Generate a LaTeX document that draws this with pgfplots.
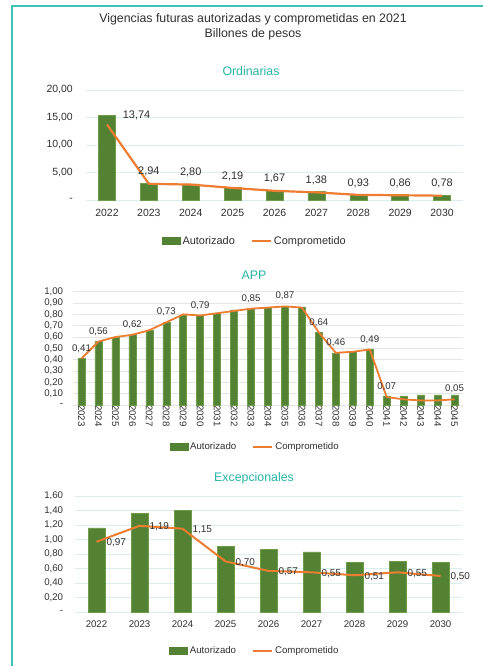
\documentclass[border=0pt]{standalone}
\usepackage{fontspec}
\setmainfont{Liberation Sans}
\usepackage{pgfplots}
\usepackage{pgfplotstable}
\pgfplotsset{compat=1.18}
\definecolor{barg}{HTML}{548235}
\definecolor{bared}{HTML}{6E9E4C}
\definecolor{orng}{HTML}{ED7D31}
\definecolor{tealt}{HTML}{26B4A6}
\definecolor{framec}{HTML}{3CC3B5}
\definecolor{gridc}{HTML}{DAEEEE}
\definecolor{txt}{HTML}{303030}

\pgfplotstableread{
x aut comp lab
0 15.45 13.74 {}
1 3.05 2.94 2,94
2 2.95 2.80 2,80
3 2.30 2.19 2,19
4 1.80 1.67 1,67
5 1.50 1.38 1,38
6 1.00 0.93 0,93
7 0.95 0.86 0,86
8 0.90 0.78 0,78
}\ordtab

\pgfplotstableread{
x aut comp lab
0 0.41 0.41 0,41
1 0.56 0.56 0,56
2 0.60 0.60 {}
3 0.62 0.62 0,62
4 0.66 0.66 {}
5 0.73 0.73 0,73
6 0.79 0.80 {}
7 0.79 0.79 0,79
8 0.81 0.81 {}
9 0.84 0.83 {}
10 0.85 0.85 0,85
11 0.86 0.86 {}
12 0.87 0.87 0,87
13 0.86 0.86 {}
14 0.64 0.64 0,64
15 0.46 0.46 0,46
16 0.47 0.47 {}
17 0.49 0.49 0,49
18 0.08 0.07 0,07
19 0.08 0.05 {}
20 0.09 0.04 {}
21 0.09 0.04 {}
22 0.09 0.05 0,05
}\apptab

\pgfplotstableread{
x aut comp lab
0 1.16 0.97 0,97
1 1.36 1.19 1,19
2 1.40 1.15 1,15
3 0.91 0.70 0,70
4 0.87 0.57 0,57
5 0.83 0.55 0,55
6 0.69 0.51 0,51
7 0.70 0.55 0,55
8 0.69 0.50 0,50
}\exctab

\pgfplotsset{
  vf/.style={
    scale only axis, anchor=south west, clip=false,
    axis line style={draw=none}, major tick length=0pt,
    ymajorgrids, grid style={gridc, line width=0.9bp},
    ymin=0, xmin=-0.5,
    ticklabel style={text=txt},
    legend style={draw=none, fill=none, legend columns=2, anchor=center,
      text=txt,
      /tikz/every even column/.append style={column sep=14bp}},
  },
  barst/.style={ybar, bar width=#1, fill=barg, draw=bared, line width=0.5bp,
    legend image code/.code={\fill[barg] (0bp,-3.5bp) rectangle (18bp,3.5bp);}},
  linest/.style={orng, line width=#1, sharp plot,
    legend image code/.code={\draw[orng,line width=2bp] (0bp,0bp) -- (19bp,0bp);}},
}

\begin{document}
\begin{tikzpicture}[x=1bp,y=1bp]
\useasboundingbox (0,0) rectangle (483,666);
\fill[white] (0,0) rectangle (483,666);
\draw[framec, line width=1.6bp] (12,0) -- (12,660) -- (483,660);

\node[font=\fontsize{12.4}{14}\selectfont, text=txt] at (253,647) {Vigencias futuras autorizadas y comprometidas en 2021};
\node[font=\fontsize{12.4}{14}\selectfont, text=txt] at (253,632) {Billones de pesos};
\node[font=\fontsize{12.4}{14}\selectfont, text=tealt] at (251,595) {Ordinarias};
\node[font=\fontsize{12.4}{14}\selectfont, text=tealt] at (254,391) {APP};
\node[font=\fontsize{12.4}{14}\selectfont, text=tealt] at (254,188) {Excepcionales};

% ---------- Ordinarias ----------
\begin{axis}[vf, at={(86bp,466bp)}, width=377bp, height=110bp,
  xmax=8.5, ymax=20,
  ytick={0,5,10,15,20},
  yticklabels={{-\hspace{5bp}},{5,00},{10,00},{15,00},{20,00}},
  xtick={0,...,8},
  xticklabels={2022,2023,2024,2025,2026,2027,2028,2029,2030},
  ticklabel style={font=\fontsize{10.5}{12}\selectfont},
  yticklabel style={xshift=-9.7bp},
  xticklabel style={yshift=-6bp},
  legend style={at={(0.448,-0.373)}, font=\fontsize{11}{13}\selectfont},
]
\addplot[barst=17bp] table[x=x,y=aut] {\ordtab};
\addlegendentry{Autorizado}
\addplot[linest=2.2bp, nodes near coords, point meta=explicit symbolic,
  every node near coord/.append style={anchor=south, text=txt, yshift=3bp,
    font=\fontsize{11}{13}\selectfont}]
  table[x=x,y=comp,meta=lab] {\ordtab};
\addlegendentry{Comprometido}
\addplot[draw=none, forget plot, nodes near coords, point meta=explicit symbolic,
  every node near coord/.append style={anchor=south west, text=txt, xshift=12.4bp, yshift=1bp,
    font=\fontsize{11}{13}\selectfont}]
  coordinates {(0,13.74) [13,74]};
\end{axis}

% ---------- APP ----------
\begin{axis}[vf, at={(73bp,261bp)}, width=390bp, height=113.3bp,
  xmax=22.5, ymax=1,
  ytick={0,0.1,...,1.0},
  yticklabels={{-\hspace{5bp}},{0,10},{0,20},{0,30},{0,40},{0,50},{0,60},{0,70},{0,80},{0,90},{1,00}},
  xtick={0,...,22},
  xticklabels={2023,2024,2025,2026,2027,2028,2029,2030,2031,2032,2033,2034,2035,2036,2037,2038,2039,2040,2041,2042,2043,2044,2045},
  ticklabel style={font=\fontsize{9.7}{11}\selectfont},
  yticklabel style={xshift=-6.4bp},
  xticklabel style={rotate=-90, anchor=west, xshift=-3.4bp},
  grid style={black!10},
  legend style={at={(0.467,-0.371)}, font=\fontsize{9.7}{11}\selectfont},
]
\addplot[barst=7bp] table[x=x,y=aut] {\apptab};
\addlegendentry{Autorizado}
\addplot[linest=1.8bp, nodes near coords, point meta=explicit symbolic,
  every node near coord/.append style={anchor=south, text=txt, yshift=2bp,
    font=\fontsize{9.7}{11}\selectfont}]
  table[x=x,y=comp,meta=lab] {\apptab};
\addlegendentry{Comprometido}
\end{axis}

% ---------- Excepcionales ----------
\begin{axis}[vf, at={(75bp,53.7bp)}, width=387bp, height=116.3bp,
  xmax=8.5, ymax=1.6,
  ytick={0,0.2,...,1.6},
  yticklabels={{-\hspace{5bp}},{0,20},{0,40},{0,60},{0,80},{1,00},{1,20},{1,40},{1,60}},
  xtick={0,...,8},
  xticklabels={2022,2023,2024,2025,2026,2027,2028,2029,2030},
  ticklabel style={font=\fontsize{9.7}{11}\selectfont},
  yticklabel style={xshift=-8.4bp},
  xticklabel style={yshift=-5bp},
  legend style={at={(0.465,-0.333)}, font=\fontsize{9.7}{11}\selectfont},
]
\addplot[barst=17bp] table[x=x,y=aut] {\exctab};
\addlegendentry{Autorizado}
\addplot[linest=2bp, nodes near coords, point meta=explicit symbolic,
  every node near coord/.append style={anchor=west, text=txt, xshift=5.7bp, yshift=-1bp,
    font=\fontsize{10}{12}\selectfont}]
  table[x=x,y=comp,meta=lab] {\exctab};
\addlegendentry{Comprometido}
\end{axis}
\end{tikzpicture}
\end{document}
